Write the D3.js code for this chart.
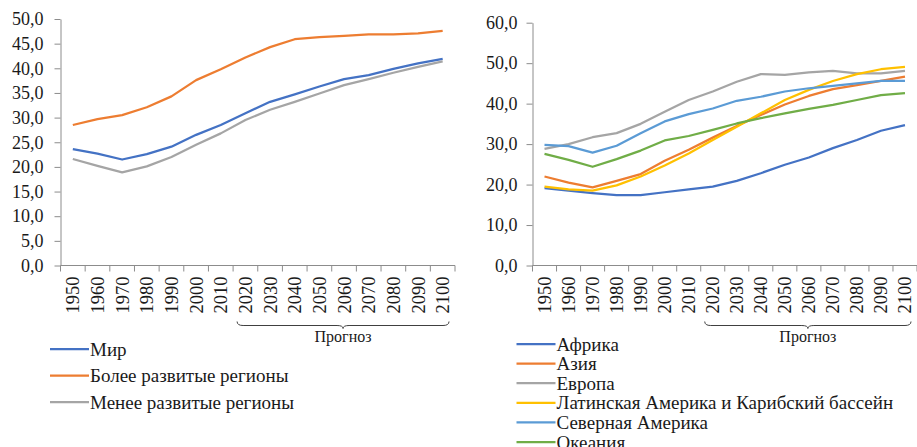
<!DOCTYPE html>
<html>
<head>
<meta charset="utf-8">
<script src="https://cdn.jsdelivr.net/npm/d3@7"></script>
<style>
    body { margin: 0; background: #fff; }
    svg { display: block; font-family: "Liberation Serif", "Times New Roman", serif; }
</style>
</head>
<body>
<svg id="chart" width="917" height="447"></svg>
<script>
const years = ['1950', '1960', '1970', '1980', '1990', '2000', '2010', '2020',
    '2030', '2040', '2050', '2060', '2070', '2080', '2090', '2100'];
const forecastStart = '2020';

// left panel
const worldNames = ['Мир', 'Более развитые регионы', 'Менее развитые регионы'];
const world = [23.6, 22.7, 21.5, 22.6, 24.1, 26.5, 28.5, 30.9, 33.2, 34.7, 36.3, 37.8, 38.6, 39.9, 41.0, 41.9];
const moreDeveloped = [28.5, 29.7, 30.5, 32.1, 34.3, 37.6, 39.8, 42.2, 44.3, 45.9, 46.3, 46.6, 46.9, 46.9, 47.1, 47.6];
const lessDeveloped = [21.6, 20.2, 18.9, 20.1, 22.0, 24.5, 26.8, 29.5, 31.6, 33.2, 34.9, 36.6, 37.8, 39.1, 40.3, 41.4];
const leftTicks = [0, 5, 10, 15, 20, 25, 30, 35, 40, 45, 50];

// right panel
const regionNames = ['Африка', 'Азия', 'Европа', 'Латинская Америка и Карибский бассейн', 'Северная Америка', 'Океания'];
const africa = [19.1, 18.5, 17.9, 17.4, 17.4, 18.1, 18.8, 19.5, 20.9, 22.8, 24.9, 26.7, 29.0, 31.0, 33.3, 34.7];
const asia = [22.0, 20.5, 19.3, 20.9, 22.6, 25.9, 28.6, 31.6, 34.5, 37.2, 39.8, 41.9, 43.6, 44.6, 45.6, 46.7];
const europe = [28.8, 30.0, 31.7, 32.7, 35.0, 38.0, 40.9, 43.0, 45.4, 47.3, 47.1, 47.7, 48.1, 47.5, 47.5, 48.1];
const latinAmerica = [19.5, 18.8, 18.5, 19.8, 22.0, 24.7, 27.7, 31.0, 34.3, 37.6, 40.9, 43.4, 45.6, 47.3, 48.5, 49.1];
const northAmerica = [29.8, 29.5, 27.9, 29.6, 32.7, 35.6, 37.4, 38.8, 40.7, 41.7, 43.0, 43.8, 44.4, 45.0, 45.6, 45.6];
const oceania = [27.6, 26.1, 24.4, 26.3, 28.4, 30.9, 32.0, 33.5, 35.1, 36.4, 37.6, 38.7, 39.7, 40.9, 42.1, 42.6];
const rightTicks = [0, 10, 20, 30, 40, 50, 60];

const svg = d3.select('#chart');
const fmt = v => d3.format('.1f')(v).replace('.', ',');

function drawPanel(opts) {
    const g = svg.append('g');
    const x = d3.scaleBand().domain(years).range([opts.left, opts.right]);
    const y = d3.scaleLinear().domain([0, opts.max]).range([opts.bottom, opts.top]);

    // y axis
    const yAxis = g.append('g')
        .attr('transform', `translate(${opts.left},0)`)
        .call(d3.axisLeft(y).tickValues(opts.ticks).tickFormat(fmt).tickSize(6).tickSizeOuter(0));
    yAxis.select('.domain').attr('stroke', '#8c8c8c');
    yAxis.selectAll('.tick line').attr('stroke', '#8c8c8c');
    yAxis.selectAll('.tick text')
        .attr('x', -opts.labelGap)
        .attr('fill', '#1a1a1a')
        .style('font-size', '18px')
        .style('font-family', '"Liberation Serif", serif');

    // x axis: ticks between categories
    const xg = g.append('g').attr('transform', `translate(0,${opts.bottom})`);
    xg.append('line')
        .attr('x1', opts.left).attr('x2', opts.right)
        .attr('stroke', '#8c8c8c');
    const edges = years.map(d => x(d)).concat([opts.right]);
    xg.selectAll('line.tk').data(edges).enter().append('line')
        .attr('class', 'tk')
        .attr('x1', d => d).attr('x2', d => d)
        .attr('y1', 0).attr('y2', 6)
        .attr('stroke', '#8c8c8c');
    xg.selectAll('text').data(years).enter().append('text')
        .attr('transform', d => `translate(${x(d) + x.bandwidth() / 2},11) rotate(-90)`)
        .attr('text-anchor', 'end')
        .attr('dy', '0.35em')
        .attr('fill', '#1a1a1a')
        .style('font-size', '18.5px')
        .text(d => d);

    // lines
    const line = d3.line()
        .x((d, i) => x(years[i]) + x.bandwidth() / 2)
        .y(d => y(d));
    opts.series.forEach((s, i) => {
        g.append('path')
            .datum(s)
            .attr('fill', 'none')
            .attr('stroke', opts.colors[i])
            .attr('stroke-width', 2.25)
            .attr('stroke-linejoin', 'round')
            .attr('d', line);
    });

    // forecast brace
    const bx0 = x(forecastStart) + 4;
    const bx1 = opts.right - 6;
    const bm = (bx0 + bx1) / 2;
    const by = opts.bottom + 60;
    g.append('path')
        .attr('fill', 'none')
        .attr('stroke', '#404040')
        .attr('stroke-width', 1)
        .attr('d', `M${bx0},${by - 4} Q${bx0},${by} ${bx0 + 6},${by} L${bm - 6},${by} Q${bm},${by} ${bm},${by + 3}` +
            ` Q${bm},${by} ${bm + 6},${by} L${bx1 - 6},${by} Q${bx1},${by} ${bx1},${by - 4}`);
    g.append('text')
        .attr('x', bm)
        .attr('y', by + 16)
        .attr('text-anchor', 'middle')
        .attr('fill', '#1a1a1a')
        .style('font-size', '16px')
        .text('Прогноз');

    // legend
    const lg = g.append('g');
    opts.names.forEach((n, i) => {
        const ly = opts.legendY + i * opts.legendStep;
        lg.append('line')
            .attr('x1', opts.legendX).attr('x2', opts.legendX + 39)
            .attr('y1', ly).attr('y2', ly)
            .attr('stroke', opts.colors[i])
            .attr('stroke-width', 2.25);
        lg.append('text')
            .attr('x', opts.legendX + 40)
            .attr('y', ly)
            .attr('dy', '0.35em')
            .attr('fill', '#1a1a1a')
            .style('font-size', '19px')
            .text(n);
    });
}

drawPanel({
    left: 60.5, right: 455, top: 19, bottom: 265.5, max: 50,
    ticks: leftTicks, labelGap: 17,
    series: [world, moreDeveloped, lessDeveloped],
    names: worldNames,
    colors: ['#4472C4', '#ED7D31', '#A5A5A5'],
    legendX: 50, legendY: 349, legendStep: 26.5
});

drawPanel({
    left: 532.5, right: 917, top: 22.7, bottom: 265.5, max: 60,
    ticks: rightTicks, labelGap: 15,
    series: [africa, asia, europe, latinAmerica, northAmerica, oceania],
    names: regionNames,
    colors: ['#4472C4', '#ED7D31', '#A5A5A5', '#FFC000', '#5B9BD5', '#70AD47'],
    legendX: 516.5, legendY: 344, legendStep: 19.6
});
</script>
</body>
</html>
